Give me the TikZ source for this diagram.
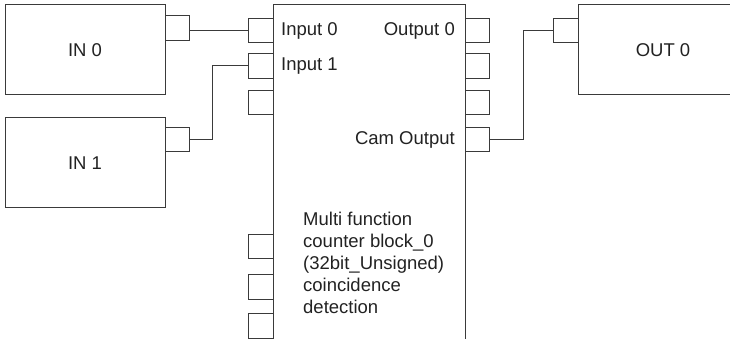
\documentclass[tikz,border=0pt]{standalone}
\usepackage{fontspec}
\setmainfont{Liberation Sans}
\usetikzlibrary{positioning}
\definecolor{BlockLine}{HTML}{3A3A3A}
\definecolor{BlockText}{HTML}{222222}

\begin{document}
\begin{tikzpicture}[
  x=1pt, y=-1pt,
  every node/.style={font=\fontsize{18.5}{22}\selectfont, text=BlockText},
  box/.style={draw=BlockLine, line width=1pt, outer sep=0pt, inner sep=0pt},
  unit/.style={box, minimum width=160pt, minimum height=90pt},
  port/.style={box, minimum width=24.5pt, minimum height=24.5pt},
  txt/.style={inner sep=0pt},
  wire/.style={draw=BlockLine, line width=1pt}
]
  \clip (0,0) rectangle (730,339);
  % counter block and its ports
  \node[box, anchor=north west, minimum width=192pt, minimum height=380pt] (fb) at (273,5) {};
  \foreach \i/\y in {0/30.5,1/66,2/102.5,3/246.7,4/287,5/326}
    \node[port, anchor=east] (fbin\i) at (273,\y) {};
  \foreach \i/\y in {0/30.5,1/66,2/102.5,3/139.5}
    \node[port, anchor=west] (fbout\i) at (465,\y) {};
  \node[txt, anchor=west] (lblin0) at ([xshift=8pt]fbin0.east) {Input 0};
  \node[txt, anchor=west] (lblin1) at ([xshift=8pt]fbin1.east) {Input 1};
  \node[txt, anchor=east] (lblout0) at ([xshift=-10pt]fbout0.west) {Output 0};
  \node[txt, anchor=east] (lblcam) at ([xshift=-10pt]fbout3.west) {Cam Output};
  \node[txt, anchor=west, align=left] (fbname) at (303,263)
    {Multi function\\counter block\_0\\(32bit\_Unsigned)\\coincidence\\detection};

  % inputs and output units
  \node[unit] (src0) at (85,50) {IN 0};
  \node[unit] (src1) at (85,162.8) {IN 1};
  \node[unit, minimum width=170pt, anchor=west] (dst0) at (578,50) {OUT 0\hspace{20pt}};
  \node[port, anchor=west] (src0p) at (165,28) {};
  \node[port, anchor=west] (src1p) at (165,139.7) {};
  \node[port, anchor=east] (dst0p) at (578,30.5) {};

  % wires
  \draw[wire] (src0p.east |- fbin0.west) -- (fbin0.west);
  \draw[wire] (src1p.east) -- ++(23,0) |- (fbin1.west);
  \draw[wire] (fbout3.east) -- ++(34,0) |- (dst0p.west);
\end{tikzpicture}
\end{document}
